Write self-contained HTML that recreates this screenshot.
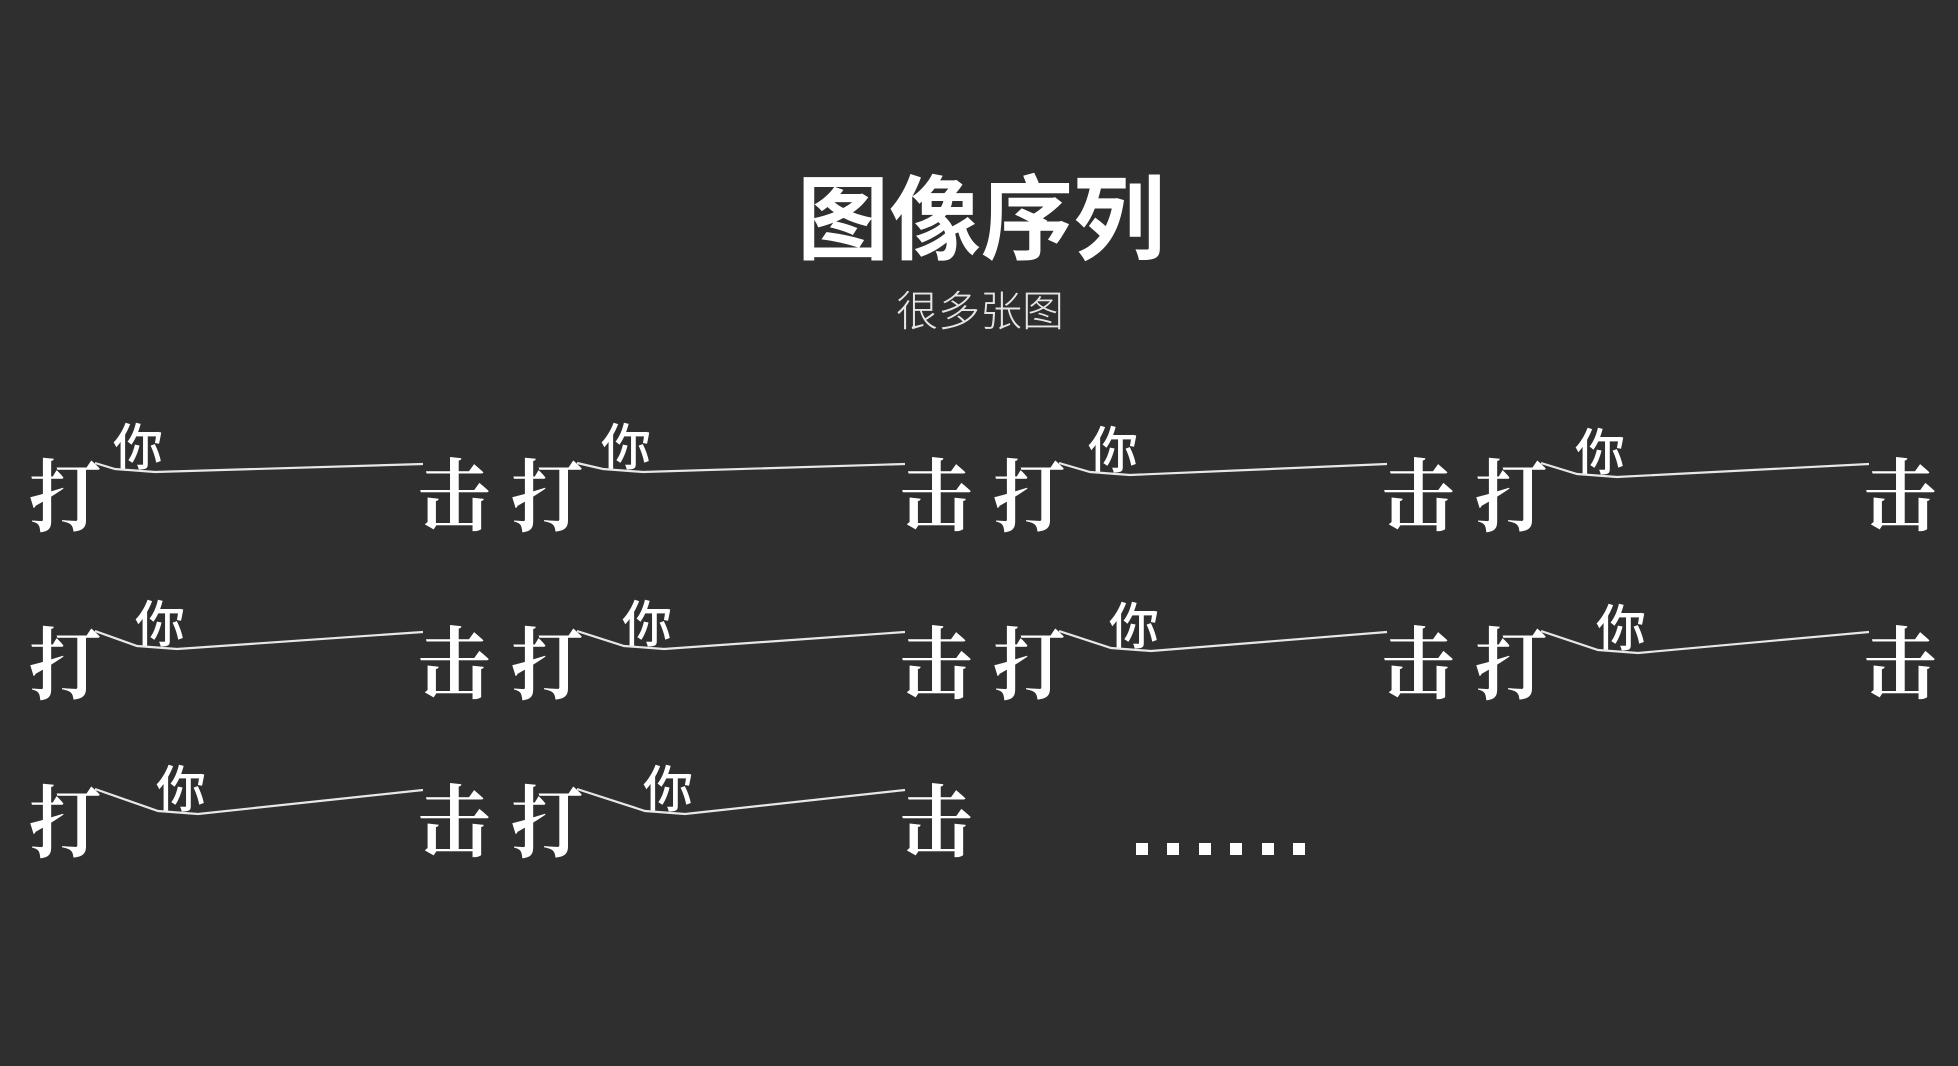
<!DOCTYPE html>
<html><head><meta charset="utf-8"><style>
html,body{margin:0;padding:0;background:#2f2f2f;}
svg{display:block}
</style></head><body>
<svg width="1958" height="1066" viewBox="0 0 1958 1066" xmlns="http://www.w3.org/2000/svg">
<rect width="1958" height="1066" fill="#2f2f2f"/>
<text x="981" y="252" text-anchor="middle" font-family="'Liberation Sans','Noto Sans CJK SC',sans-serif" font-weight="bold" font-size="92" fill="#fff">图像序列</text>
<text x="980" y="326" text-anchor="middle" font-family="'Liberation Sans','Noto Sans CJK SC',sans-serif" font-weight="300" font-size="42" fill="#e6e6e6">很多张图</text>
<g id="frames" font-family="'Liberation Serif','Noto Serif CJK SC',serif" font-weight="bold" fill="#fff"></g>
<g fill="#fff">
<rect x="1136" y="843" width="12" height="12"/>
<rect x="1167" y="843" width="12" height="12"/>
<rect x="1199" y="843" width="12" height="12"/>
<rect x="1230" y="843" width="12" height="12"/>
<rect x="1262" y="843" width="12" height="12"/>
<rect x="1293" y="843" width="12" height="12"/>
</g>
</svg>
<script>
var g=document.getElementById('frames');
var cols=[31,513,995,1477];
var rows=[{ty:457,ny:[420,420,423,425],dx:[82,88,93,98]},
{ty:625,ny:[597,597,599,601],dx:[104,109,114,119]},
{ty:783,ny:[762,762],dx:[125,130]}];
var h='';
rows.forEach(function(r){
 r.dx.forEach(function(dx,i){
  var ox=cols[i],ty=r.ty,ny=r.ny[i];
  h+='<text transform="translate('+(ox-2)+','+(ty+68)+') scale(0.88,0.96)" font-size="82">打</text>';
  h+='<text transform="translate('+(ox+387)+','+(ty+67)+') scale(0.88,0.96)" font-size="82">击</text>';
  h+='<text x="'+(ox+dx)+'" y="'+(ny+45)+'" font-size="50" font-weight="500" font-family="\'Liberation Sans\',\'Noto Sans CJK SC\',sans-serif">你</text>';
  h+='<polyline fill="none" stroke="#e8e8e8" stroke-width="2.2" points="'+(ox+64)+','+(ty+6)+' '+(ox+dx+2)+','+(ny+49)+' '+(ox+dx+42)+','+(ny+52)+' '+(ox+392)+','+(ty+7)+'"/>';
 });
});
g.innerHTML=h;
</script>
</body></html>
